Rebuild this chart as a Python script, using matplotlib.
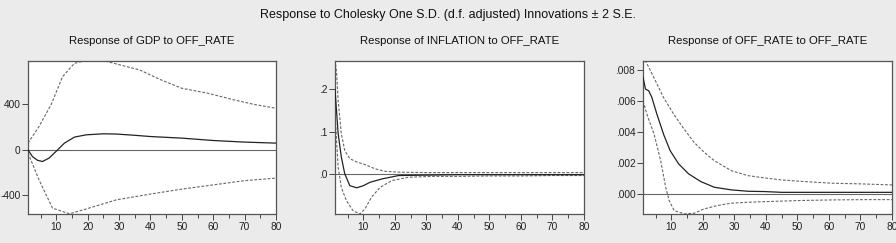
import matplotlib
matplotlib.use("Agg")
import matplotlib.pyplot as plt
from matplotlib.ticker import FixedLocator, FixedFormatter

plt.rcParams['font.family'] = ['Liberation Sans', 'DejaVu Sans']

main_title = "Response to Cholesky One S.D. (d.f. adjusted) Innovations \u00b1 2 S.E."
titles = ["Response of GDP to OFF_RATE",
          "Response of INFLATION to OFF_RATE",
          "Response of OFF_RATE to OFF_RATE"]

# GDP response
gdp_x = [1, 2.4, 4, 5.6, 7.7, 9.9, 12.6, 15.8, 19.5, 25, 29, 34.5, 40, 50, 60, 70, 80]
gdp_mid = [0, -59, -92, -103, -73, -15, 59, 112, 132, 141, 139, 129, 117, 103, 82, 68, 59]
gdp_up_x = [1, 4.5, 8.4, 12, 15.8, 20, 25, 30, 36.6, 43, 50, 58, 66.6, 73, 80]
gdp_up = [59, 205, 400, 644, 762, 790, 785, 750, 703, 620, 542, 500, 440, 400, 366]
gdp_lo_x = [1, 4.5, 8.8, 14.2, 19.5, 29.2, 39.9, 50, 60.2, 69.8, 80]
gdp_lo = [-27, -264, -513, -563, -521, -440, -390, -346, -308, -272, -249]

# INFLATION response
inf_x = [1, 2, 3, 4.1, 5.7, 7.9, 10, 12.1, 15.9, 21.2, 30, 40, 50, 60, 70, 80]
inf_mid = [0.2, 0.095, 0.04, 0.0, -0.028, -0.033, -0.028, -0.020, -0.012, -0.004, -0.003, -0.002, -0.002, -0.002, -0.002, -0.002]
inf_up_x = [1, 1.5, 2, 3, 4.1, 5.7, 7.9, 10.5, 13.7, 16.9, 21.2, 30, 40, 50, 60, 70, 80]
inf_up = [0.27, 0.24, 0.174, 0.095, 0.055, 0.036, 0.028, 0.022, 0.012, 0.006, 0.004, 0.003, 0.003, 0.003, 0.003, 0.003, 0.003]
inf_lo_x = [1, 2, 3, 4.6, 6.7, 8.9, 10.5, 12.6, 15.3, 19, 24.4, 31.9, 40, 50, 60, 70, 80]
inf_lo = [0.142, 0.016, -0.032, -0.063, -0.087, -0.095, -0.083, -0.055, -0.032, -0.016, -0.008, -0.006, -0.006, -0.005, -0.005, -0.004, -0.004]

# OFF_RATE response
off_x = [1, 1.8, 2.8, 3.8, 5.4, 7.5, 9.6, 12.3, 15.5, 19.3, 23.6, 29, 34.3, 39.7, 45, 60, 80]
off_mid = [0.00753, 0.00677, 0.00667, 0.00624, 0.00516, 0.00387, 0.0028, 0.00194, 0.00129, 0.0008, 0.00043, 0.00026, 0.00017, 0.00015, 0.0001, 0.0001, 0.0001]
off_up_x = [1, 1.8, 4.5, 7.5, 10.7, 14, 17.2, 20.4, 23.6, 29, 34.3, 39.7, 45, 50.4, 61, 69.6, 80]
off_up = [0.0092, 0.0086, 0.0075, 0.00624, 0.00516, 0.0042, 0.00333, 0.00269, 0.00215, 0.0015, 0.00118, 0.00103, 0.0009, 0.00082, 0.00069, 0.00065, 0.00058]
off_lo_x = [1, 2.4, 4.5, 6.6, 8.2, 9.3, 10.9, 14, 17.2, 20.4, 24.7, 29, 34.3, 39.7, 50.4, 61, 72, 80]
off_lo = [0.006, 0.00505, 0.00387, 0.00215, 0.00043, -0.00043, -0.00108, -0.00129, -0.00125, -0.00097, -0.00075, -0.0006, -0.00054, -0.0005, -0.00043, -0.00039, -0.00037, -0.00037]

panels = [
    (gdp_x, gdp_mid, gdp_up_x, gdp_up, gdp_lo_x, gdp_lo, (-565, 782),
     [-400, 0, 400], ["-400", "0", "400"]),
    (inf_x, inf_mid, inf_up_x, inf_up, inf_lo_x, inf_lo, (-0.095, 0.267),
     [0.0, 0.1, 0.2], [".0", ".1", ".2"]),
    (off_x, off_mid, off_up_x, off_up, off_lo_x, off_lo, (-0.0013, 0.00859),
     [0.0, 0.002, 0.004, 0.006, 0.008], [".000", ".002", ".004", ".006", ".008"]),
]

lefts = [28 / 896, 335 / 896, 643 / 896]
widths = [248 / 896, 249 / 896, 249 / 896]
bottom = 1 - 214 / 243
height = (214 - 61) / 243

fig = plt.figure(figsize=(8.96, 2.43), dpi=100)
fig.patch.set_facecolor('#ebebeb')
fig.text(0.5, 1 - 15 / 243, main_title, ha='center', va='center', fontsize=9, color='#111111')

for i, (px, pm, ux, uy, lx, ly, ylim, yt, ytl) in enumerate(panels):
    ax = fig.add_axes([lefts[i], bottom, widths[i], height])
    ax.set_facecolor('white')
    ax.axhline(0, color='#666666', lw=0.8, zorder=1)
    ax.plot(ux, uy, color='#666666', lw=0.8, ls=(0, (2.5, 1.5)), zorder=2)
    ax.plot(lx, ly, color='#666666', lw=0.8, ls=(0, (2.5, 1.5)), zorder=2)
    ax.plot(px, pm, color='#222222', lw=0.9, zorder=3)
    ax.set_xlim(1, 80)
    ax.set_ylim(*ylim)
    ax.xaxis.set_major_locator(FixedLocator([10, 20, 30, 40, 50, 60, 70, 80]))
    ax.xaxis.set_minor_locator(FixedLocator([5, 15, 25, 35, 45, 55, 65, 75]))
    ax.yaxis.set_major_locator(FixedLocator(yt))
    ax.yaxis.set_major_formatter(FixedFormatter(ytl))
    ax.tick_params(axis='both', which='major', labelsize=7.3, length=4, width=0.7,
                   color='#444444', labelcolor='#222222', pad=1.5)
    ax.tick_params(axis='x', which='minor', length=3, width=0.7, color='#444444')
    for s in ax.spines.values():
        s.set_color('#555555')
        s.set_linewidth(0.9)
    fig.text(lefts[i] + widths[i] / 2, 1 - 41 / 243, titles[i], ha='center', va='center',
             fontsize=8.2, color='#111111')

fig.savefig('out.png', dpi=100, facecolor=fig.get_facecolor())
